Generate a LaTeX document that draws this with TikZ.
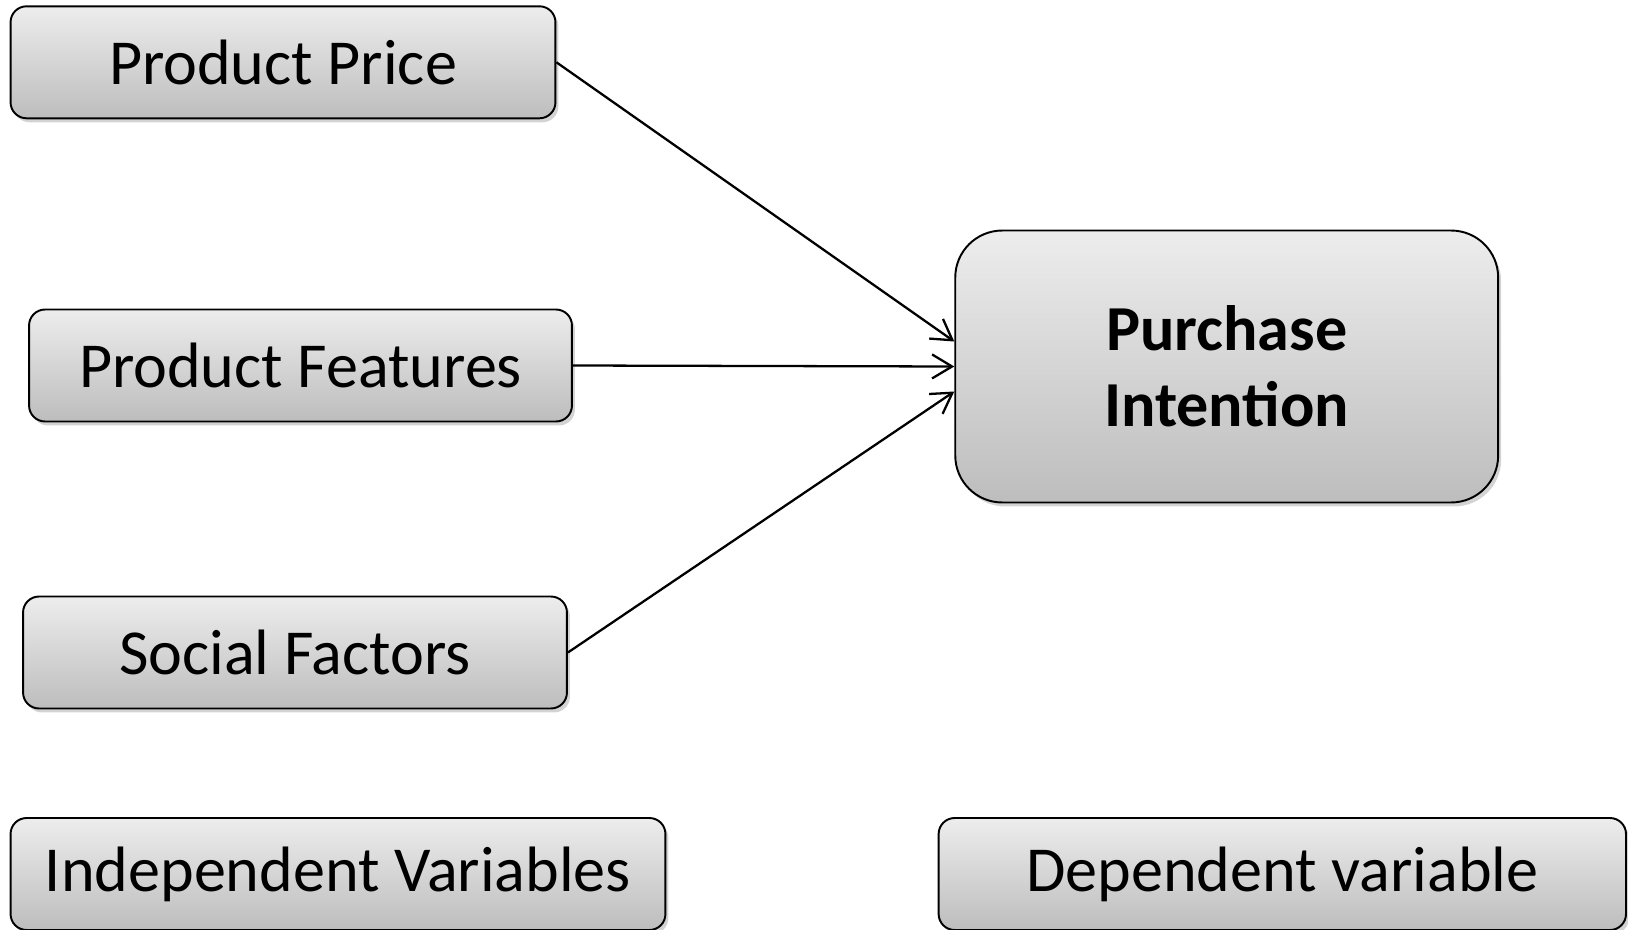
\documentclass[tikz,border=0pt]{standalone}
\usepackage{fontspec}
\setmainfont{Carlito}
\usepackage{tikz}
\usetikzlibrary{arrows.meta,shadows}
\definecolor{INK}{HTML}{000000}
\definecolor{TOPG}{HTML}{EDEDED}
\definecolor{BOTG}{HTML}{BDBDBD}

\begin{document}
\begin{tikzpicture}[x=0.02cm,y=-0.02cm]
\tikzset{box/.style={draw=INK,line width=1.1pt,rounded corners=0.32cm,top color=TOPG,bottom color=BOTG,
 drop shadow={shadow xshift=0.06cm,shadow yshift=-0.08cm,opacity=0.35},inner sep=0pt,align=center,
 font=\fontsize{36.5}{43.5}\selectfont,minimum height=2.24cm},
 bigbox/.style={box,rounded corners=0.94cm,font=\fontsize{36.5}{43.5}\selectfont\bfseries},
 arr/.style={-{Straight Barb[length=4mm,width=4.8mm]},line width=1.3pt,INK}}
\useasboundingbox (0,0) rectangle (1628,929);
\node[box,minimum width=10.9cm] (pp) at (283,62.3) {Product Price};
\node[box,minimum width=10.86cm] (pf) at (300.5,365.5) {Product Features};
\node[box,minimum width=10.88cm] (sf) at (295,652.5) {Social Factors};
\node[bigbox,minimum width=10.86cm,minimum height=5.44cm] (pi) at (1226.7,366.5) {Purchase\\Intention};
\node[box,minimum width=13.1cm] (iv) at (338,874) {Independent Variables};
\node[box,minimum width=13.75cm] (dv) at (1282.3,874) {Dependent variable};
\draw[arr] (pp.east) -- ([yshift=0.5cm]pi.west);
\draw[arr] (pf.east) -- (pi.west);
\draw[arr] (sf.east) -- ([yshift=-0.5cm]pi.west);
\end{tikzpicture}
\end{document}
